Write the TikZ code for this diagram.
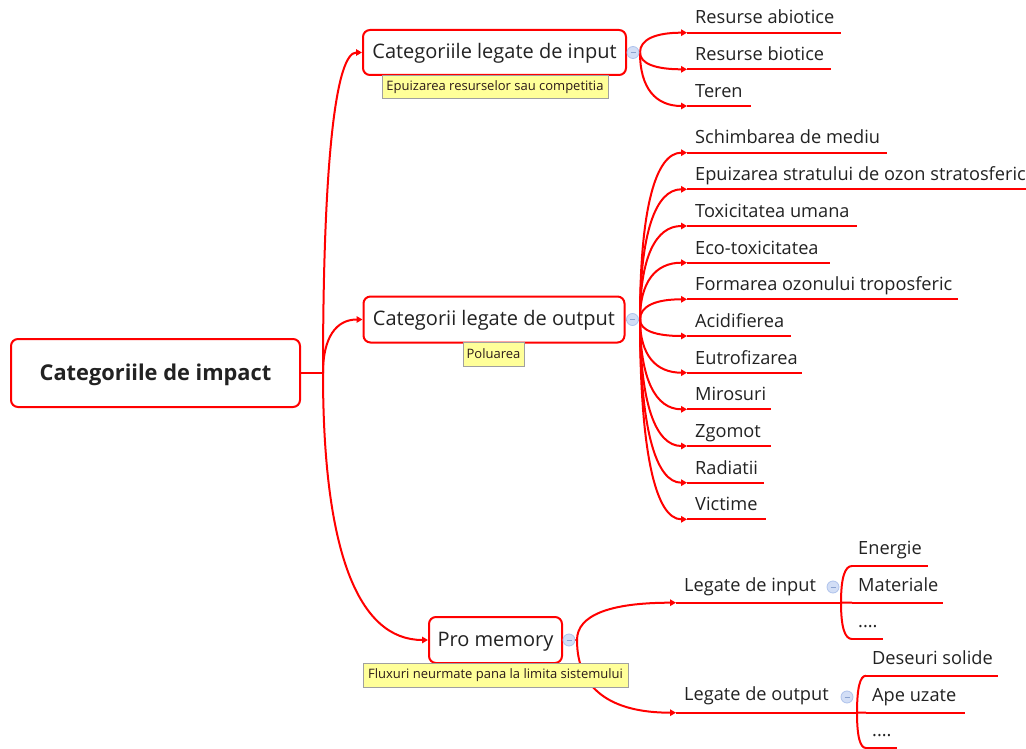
\documentclass[tikz,border=0pt]{standalone}
\usepackage{fontspec}
\setmainfont{Open Sans}
\usetikzlibrary{arrows.meta,calc}
\definecolor{mmred}{HTML}{FF0000}
\definecolor{ink}{HTML}{222222}
\definecolor{notefill}{HTML}{FFFF99}
\definecolor{noteline}{HTML}{A0A0A0}
\definecolor{notetext}{HTML}{2B1A1A}
\definecolor{knobfill}{HTML}{D2DEF6}
\definecolor{knobline}{HTML}{AFC3EC}
\definecolor{knobmark}{HTML}{8AA2D0}
\newcommand\fourdots{....}

\begin{document}
\begin{tikzpicture}[x=1pt,y=-1pt,
  topic/.style={draw=mmred, line width=2pt, rounded corners=7pt, fill=white,
    text=ink, font=\fontsize{20}{23}\selectfont, inner sep=0pt,
    text height=15.2pt, text depth=2.8pt},
  leaf/.style={anchor=south west, inner xsep=8pt, inner ysep=8.5pt, text depth=0pt,
    text=ink, font=\fontsize{18.2}{21}\selectfont},
  link/.style={draw=mmred, line width=2pt},
  arrow/.style={link, -{Triangle[length=6pt,width=6.5pt]}},
  curve/.style={to path={
    .. controls ($(\tikztostart)!2/3!(\tikztostart |- \tikztotarget)$)
    and ($(\tikztotarget)!2/3!(\tikztostart |- \tikztotarget)$) .. (\tikztotarget)}},
  note/.style={draw=noteline, line width=1pt, fill=notefill, text=notetext,
    font=\fontsize{13}{15}\selectfont, inner xsep=2pt, inner ysep=0pt},
  knob/.style={circle, draw=knobline, fill=knobfill, line width=0.8pt,
    minimum size=12pt, inner sep=0pt,
    path picture={\draw[knobmark, line width=0.8pt]
      ([xshift=-2.5pt]path picture bounding box.center) --
      ([xshift=2.5pt]path picture bounding box.center);}},
]
\fill[white] (0,0) rectangle (1026,749);
\useasboundingbox (0,0) rectangle (1026,749);

% main topics
\node[topic, font=\bfseries\fontsize{21.8}{25}\selectfont,
  text height=16.6pt, text depth=2.6pt,
  minimum width=289pt, minimum height=68pt] (root) at (155.5,373) {Categoriile de impact};
\node[topic, minimum width=263pt, minimum height=45pt] (inp) at (494.5,52.5) {Categoriile legate de input};
\node[topic, minimum width=261pt, minimum height=46pt] (outp) at (494,319.5) {Categorii legate de output};
\node[topic, minimum width=133pt, minimum height=46pt] (pro) at (495.5,640) {Pro memory};

% root branches
\coordinate (rootfork) at (323,373);
\draw[link] (root.east) -- (rootfork);
\draw[arrow] (rootfork) to[curve] (inp.west);
\draw[arrow] (rootfork) to[curve] (outp.west);
\draw[arrow] (rootfork) to[curve] (pro.west);

% input categories
\coordinate (inpfork) at (640,52.5);
\draw[link] (inp.east) -- (inpfork);
\foreach \n/\y/\t/\l in {r1/32.7/Resurse abiotice/154, r2/69.3/Resurse biotice/144, r3/106/Teren/64}{
  \node[leaf] (\n) at (687,\y) {\t};
  \draw[arrow] (inpfork) to[curve] (\n.south west);
  \draw[link] (\n.south west) -- ++(\l,0);
}
\node[knob] (inpknob) at (633,52.5) {};

% output categories
\coordinate (outfork) at (640,319.5);
\draw[link] (outp.east) -- (outfork);
\foreach \n/\y/\t/\l in {
  o1/152.7/Schimbarea de mediu/200,
  o2/189.3/Epuizarea stratului de ozon stratosferic/339,
  o3/226/Toxicitatea umana/170,
  o4/262.7/Eco-toxicitatea/143,
  o5/299.3/Formarea ozonului troposferic/271,
  o6/336/Acidifierea/104,
  o7/372.7/Eutrofizarea/115,
  o8/409.3/Mirosuri/84,
  o9/446/Zgomot/84,
  o10/482.7/Radiatii/77,
  o11/519.3/Victime/79}{
  \node[leaf] (\n) at (687,\y) {\t};
  \draw[arrow] (outfork) to[curve] (\n.south west);
  \draw[link] (\n.south west) -- ++(\l,0);
}
\node[knob] (outknob) at (632.5,319.5) {};

% pro memory flows
\coordinate (profork) at (577,640);
\draw[link] (pro.east) -- (profork);
\node[leaf, inner ysep=11pt] (li) at (676,602.7) {Legate de input};
\node[leaf, inner ysep=12pt] (lo) at (676,712.7) {Legate de output};
\draw[arrow] (profork) to[curve] (li.south west);
\draw[arrow] (profork) to[curve] (lo.south west);
\node[knob] (proknob) at (569,640) {};

\coordinate (lifork) at (841,602.7);
\draw[link] (li.south west) -- (lifork);
\foreach \n/\y/\t/\l in {e1/566/Energie/76, e2/602.7/Materiale/91, e3/639/\fourdots/31}{
  \node[leaf, inner xsep=6pt, inner ysep=11pt] (\n) at (852,\y) {\t};
  \draw[link] (lifork) to[curve] (\n.south west);
  \draw[link] (\n.south west) -- ++(\l,0);
}
\node[knob] (liknob) at (833,587) {};

\coordinate (lofork) at (857,712.7);
\draw[link] (lo.south west) -- (lofork);
\foreach \n/\y/\t/\l in {d1/675.7/Deseuri solide/132, d2/712.7/Ape uzate/99, d3/748/\fourdots/31}{
  \node[leaf, inner xsep=6pt, inner ysep=11pt] (\n) at (866,\y) {\t};
  \draw[link] (lofork) to[curve] (\n.south west);
  \draw[link] (\n.south west) -- ++(\l,0);
}
\node[knob] (loknob) at (847,697) {};

% notes
\node[note, minimum width=226pt, minimum height=23pt] (n1) at (495,87.5) {Epuizarea resurselor sau competitia};
\node[note, minimum width=61pt, minimum height=24pt] (n2) at (493.5,354) {Poluarea};
\node[note, minimum width=265pt, minimum height=24pt] (n3) at (495.5,675) {Fluxuri neurmate pana la limita sistemului};
\end{tikzpicture}
\end{document}
